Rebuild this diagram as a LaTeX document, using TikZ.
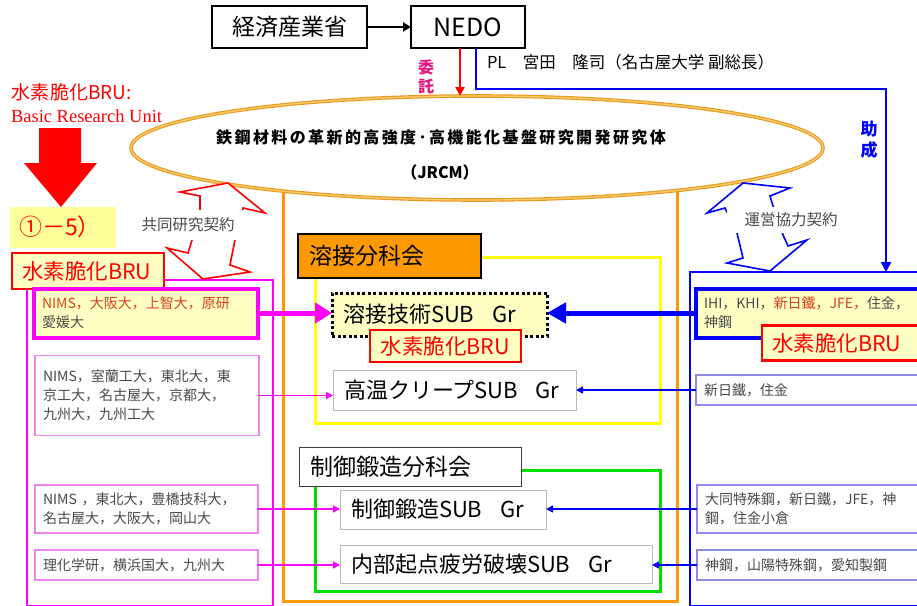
\documentclass[tikz,border=0pt]{standalone}
\usepackage{fontspec}
\setmainfont{Noto Sans CJK JP}
\newfontfamily\serifen{Liberation Serif}
\usetikzlibrary{arrows.meta, shapes.geometric}
\definecolor{jporange}{HTML}{FF9900}
\definecolor{jpyellow}{HTML}{FFFF00}
\definecolor{paleyellow}{HTML}{FFFFC4}
\definecolor{tagyellow}{HTML}{FFFF99}
\definecolor{jpgreen}{HTML}{00E000}
\definecolor{jpmagenta}{HTML}{FF00FF}
\definecolor{jpblue}{HTML}{0000FF}
\definecolor{jpred}{HTML}{FF0000}
\definecolor{instgray}{HTML}{4A4A4A}
\definecolor{instred}{HTML}{D8401E}
\definecolor{pinkline}{HTML}{EE82EE}
\definecolor{lilac}{HTML}{8C8CE6}
\definecolor{ellorange}{HTML}{E89A20}
\definecolor{ellcream}{HTML}{FFD070}
\definecolor{itakupink}{HTML}{E8187E}
\newcommand{\fsz}[2]{\fontsize{#1}{#2}\selectfont}

\begin{document}
\begin{tikzpicture}[
    x=1pt, y=-1pt,
    every node/.style={inner sep=0pt, outer sep=0pt},
    govbox/.style={draw, line width=1.6pt, fill=white, minimum height=42pt, font=\fsz{23}{26}},
    subgr/.style={draw=gray!55, line width=1pt, fill=white, minimum height=39pt, font=\fsz{22}{26}, align=left, inner xsep=11pt, anchor=west},
    secbox/.style={subgr, draw=black!75, font=\fsz{23}{26}},
    brutag/.style={draw=jpred, line width=2.2pt, fill=paleyellow, text=jpred, font=\fsz{21.5}{25}, align=left, inner xsep=10pt, anchor=west},
    lefinst/.style={draw=pinkline, line width=1.2pt, fill=white, text=instgray, font=\fsz{14}{19}, align=left, inner xsep=8pt, anchor=west},
    riginst/.style={lefinst, draw=lilac},
    bolt/.style={line width=1.6pt, fill=white, line join=miter},
    contract/.style={fill=white, text=instgray, font=\fsz{15.5}{18}},
    pinkarr/.style={jpmagenta, line width=1.4pt, -{Triangle[length=7pt,width=7pt]}},
    bluearr/.style={jpblue, line width=1.4pt, -{Triangle[length=7pt,width=7pt]}},
  ]
  \useasboundingbox (0,0) rectangle (917,605);

  % outer frames
  \draw[jporange, line width=3pt] (283,180) rectangle (677,601);
  \node[draw=jpmagenta, line width=2pt, minimum width=246, minimum height=326, anchor=north west] (lframe) at (27,280) {};
  \node[draw=jpblue, line width=2pt, minimum width=240, minimum height=334, anchor=north west] (rframe) at (690,272) {};
  \draw[jpyellow, line width=3pt] (315,257) rectangle (660,423);
  \draw[jpgreen, line width=3pt] (315,470) rectangle (660,591);

  % top
  \node[govbox, minimum width=155] (meti) at (289.5,27) {経済産業省};
  \node[govbox, minimum width=114, font=\fsz{25}{28}] (nedo) at (468,27) {NEDO};
  \node[font=\fsz{16.5}{19}, anchor=west] (pl) at (487,62) {PL　宮田　隆司（名古屋大学 副総長）};
  \node[ellipse, draw=ellorange, line width=1.2pt, double=ellcream, double distance=1.2pt, fill=white,
        minimum width=692, minimum height=104] (jrcm) at (477,148) {};
  \node[font={\fsz{16}{20}\bfseries\addfontfeature{LetterSpace=15}}] (jrcmname) at (441,137)
    {鉄鋼材料の革新的高強度･高機能化基盤研究開発研究体};
  \node[font=\fsz{16}{20}\bfseries] (jrcmabbr) at (440,172) {（JRCM）};
  \node[font=\fsz{16}{19}\bfseries, text=itakupink, align=center] (itaku) at (426,77) {委\\託};
  \node[font=\fsz{17}{21}\bfseries, text=jpblue, align=center] (josei) at (869,140) {助\\成};

  \draw[line width=2pt, -{Triangle[length=8pt,width=9pt]}] (meti) -- (nedo);
  \draw[jpred, line width=2pt, -{Triangle[length=9pt,width=9pt]}] ([xshift=-8pt]nedo.south) -- ([xshift=-8pt]nedo.south |- jrcm.north);
  \coordinate (bend) at (886,89);
  \draw[jpblue, line width=2.5pt, -{Triangle[length=10pt,width=10pt]}] ([xshift=8pt]nedo.south) |- (bend) -- (bend |- rframe.north);

  % left header
  \node[font=\fsz{19}{22}, text=jpred, anchor=west] (bruhead) at (12,92) {水素脆化BRU:};
  \node[font=\fsz{18.5}{21}\serifen, text=jpred, anchor=west] (brueng) at (11,116) {Basic Research Unit};
  \fill[jpred] (39,128) -- (81,128) -- (81,163) -- (97,163) -- (61,207) -- (24,163) -- (39,163) -- cycle;
  \node[fill=tagyellow, minimum width=106, minimum height=41, anchor=west, text width=88, inner xsep=9pt,
        align=left, font=\fsz{23}{26}, text=jpred] (unit) at (10,227) {①－5）};

  % contract bolts
  \draw[bolt, draw=jpred] (228,183) -- (265,213) -- (243,208) -- (235,240) -- (230,265) -- (250,272)
    -- (203,279) -- (167,248) -- (188,253) -- (192,240) -- (200,210) -- (200,196) -- (180,192) -- cycle;
  \node[contract, minimum width=110, minimum height=30] (kyodo) at (188,225) {共同研究契約};
  \draw[bolt, draw=jpblue] (743,183) -- (790,188) -- (770,196) -- (773,206) -- (783,235) -- (788,246)
    -- (807,240) -- (770,271) -- (727,263) -- (743,258) -- (737,233) -- (725,208) -- (707,213) -- cycle;
  \node[contract, minimum width=128, minimum height=26] (unei) at (791,220) {運営協力契約};

  % left side
  \node[brutag, minimum width=152, minimum height=36, text width=132] (lbru) at (12,271) {水素脆化BRU};
  \node[lefinst, draw=jpmagenta, line width=4pt, fill=paleyellow, minimum width=224, minimum height=49, text width=208] (linsta) at (34,313)
    {{\color{instred}NIMS，大阪大，上智大，原研}\\愛媛大};
  \node[lefinst, minimum width=224, minimum height=80, text width=208] (linstb) at (35,395.5)
    {NIMS，室蘭工大，東北大，東\\京工大，名古屋大，京都大，\\九州大，九州工大};
  \node[lefinst, minimum width=223, minimum height=48, text width=207] (linstc) at (35,509)
    {NIMS ，東北大，豊橋技科大，\\名古屋大，大阪大，岡山大};
  \node[lefinst, minimum width=223, minimum height=30, text width=207] (linstd) at (35,565)
    {理化学研，横浜国大，九州大};

  % center
  \node[secbox, fill=jporange, draw=black, line width=2.2pt, minimum width=183, minimum height=44, text width=161] (weldsec) at (298,256) {溶接分科会};
  \node[subgr, draw=black, line width=3pt, dash pattern=on 3pt off 2.5pt, fill=paleyellow, minimum width=215, minimum height=43, text width=193] (weldtech) at (332,314.5) {溶接技術SUB\hspace{0.8em}Gr};
  \node[brutag, minimum width=151, minimum height=32, text width=131, align=center] (mbru) at (370,346) {水素脆化BRU};
  \node[subgr, minimum width=243, minimum height=40, text width=221] (creep) at (333,390) {高温クリープSUB\hspace{0.8em}Gr};
  \node[secbox, minimum width=222, minimum height=39, text width=200] (forgesec) at (299,466.5) {制御鍛造分科会};
  \node[subgr, minimum width=206, minimum height=39, text width=184] (forge) at (340,509.5) {制御鍛造SUB\hspace{0.8em}Gr};
  \node[subgr, minimum width=312, minimum height=38, text width=290] (fatigue) at (340,564) {内部起点疲労破壊SUB\hspace{0.8em}Gr};

  % right side
  \node[riginst, draw=jpblue, line width=4pt, fill=paleyellow, minimum width=240, minimum height=49, text width=224] (rinsta) at (696,313)
    {IHI，KHI，{\color{instred}新日鐵，JFE，}住金，\\神鋼};
  \node[brutag, minimum width=170, minimum height=35, text width=150] (rbru) at (762,343) {水素脆化BRU};
  \node[riginst, minimum width=240, minimum height=30, text width=224] (rinstb) at (696,390) {新日鐵，住金};
  \node[riginst, minimum width=240, minimum height=48, text width=224] (rinstc) at (697,509)
    {大同特殊鋼，新日鐵，JFE，神\\鋼，住金小倉};
  \node[riginst, minimum width=240, minimum height=30, text width=224] (rinstd) at (697,565)
    {神鋼，山陽特殊鋼，愛知製鋼};

  % links
  \draw[jpmagenta, line width=5pt, -{Triangle[length=17pt,width=20pt]}] (linsta.east) -- (linsta.east -| weldtech.west);
  \draw[jpblue, line width=5pt, -{Triangle[length=19pt,width=20pt]}] (rinsta.west) -- (rinsta.west -| weldtech.east);
  \draw[pinkarr] (linstb.east) -- (linstb.east -| creep.west);
  \draw[pinkarr] (linstc.east) -- (linstc.east -| forge.west);
  \draw[pinkarr] (linstd.east) -- (linstd.east -| fatigue.west);
  \draw[bluearr] (rinstb.west) -- (rinstb.west -| creep.east);
  \draw[bluearr] (rinstc.west) -- (rinstc.west -| forge.east);
  \draw[bluearr] (rinstd.west) -- (rinstd.west -| fatigue.east);
\end{tikzpicture}
\end{document}
